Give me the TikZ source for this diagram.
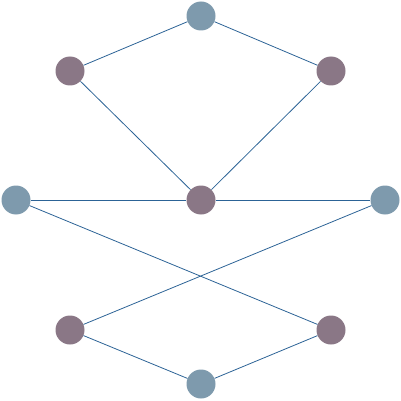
\documentclass[tikz,border=0pt]{standalone}
\usepackage{tikz}
\usetikzlibrary{positioning}

\definecolor{bluegray}{HTML}{7E9AAD}
\definecolor{mauve}{HTML}{8A7786}
\definecolor{edgeblue}{HTML}{2C6396}

\begin{document}
\begin{tikzpicture}[
    x=1pt, y=-1pt,
    outerNode/.style={circle, fill=bluegray, minimum size=29pt, inner sep=0pt},
    innerNode/.style={circle, fill=mauve, minimum size=29pt, inner sep=0pt},
    link/.style={draw=edgeblue, line width=0.8pt}
]
    \useasboundingbox (0,0) rectangle (401,401);

    % Nodes
    \node[outerNode] (top) at (201, 16) {};
    \node[innerNode] (ul) at (70, 71) {};
    \node[innerNode] (ur) at (331, 71) {};
    \node[innerNode] (mid) at (201, 200) {};
    \node[outerNode] (left) at (16, 200) {};
    \node[outerNode] (right) at (385, 200) {};
    \node[innerNode] (ll) at (70, 330) {};
    \node[innerNode] (lr) at (331, 330) {};
    \node[outerNode] (bot) at (201, 384) {};

    % Connecting lines
    \draw[link] (top) -- (ul);
    \draw[link] (top) -- (ur);
    \draw[link] (ul) -- (mid);
    \draw[link] (ur) -- (mid);
    \draw[link] (left) -- (mid);
    \draw[link] (mid) -- (right);
    \draw[link] (left) -- (lr);
    \draw[link] (right) -- (ll);
    \draw[link] (ll) -- (bot);
    \draw[link] (lr) -- (bot);

\end{tikzpicture}
\end{document}
